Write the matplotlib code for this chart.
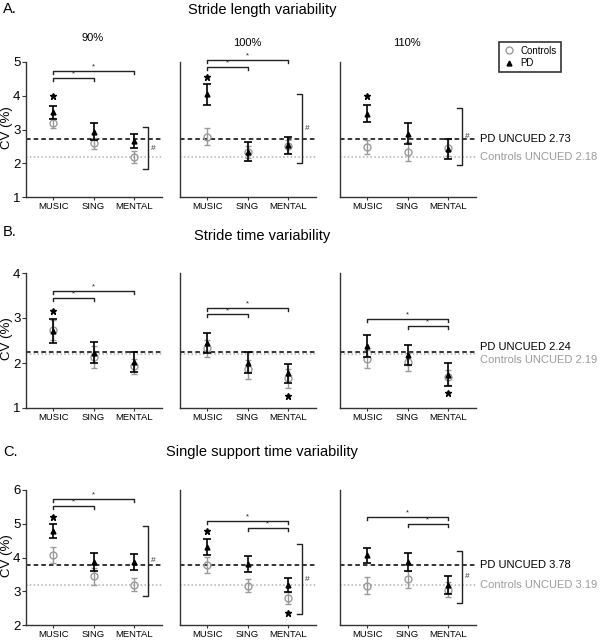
import numpy as np
import matplotlib
matplotlib.use("Agg")
import matplotlib.pyplot as plt
from matplotlib.lines import Line2D

plt.rcParams['font.family'] = ['Liberation Sans', 'DejaVu Sans']

# ---------------- data ----------------
categories = ["MUSIC", "SING", "MENTAL"]
speeds = ["90%", "100%", "110%"]
measures = ["Stride length variability", "Stride time variability",
            "Single support time variability"]
row_letters = ["A.", "B.", "C."]

# Stride length variability (CV %) per speed panel: [MUSIC, SING, MENTAL]
sl_pd_mean = [[3.51, 2.94, 2.66], [4.05, 2.34, 2.53], [3.47, 2.87, 2.43]]
sl_pd_err = [[0.20, 0.24, 0.22], [0.31, 0.28, 0.26], [0.26, 0.31, 0.30]]
sl_ctrl_mean = [[3.19, 2.59, 2.18], [2.79, 2.33, 2.50], [2.49, 2.34, 2.46]]
sl_ctrl_err = [[0.16, 0.16, 0.18], [0.24, 0.18, 0.20], [0.21, 0.28, 0.25]]

# Stride time variability
st_pd_mean = [[2.71, 2.23, 2.02], [2.45, 2.01, 1.77], [2.38, 2.18, 1.74]]
st_pd_err = [[0.26, 0.24, 0.22], [0.22, 0.24, 0.21], [0.24, 0.22, 0.25]]
st_ctrl_mean = [[2.73, 2.13, 1.93], [2.33, 1.86, 1.66], [2.09, 2.02, 1.68]]
st_ctrl_err = [[0.22, 0.24, 0.17], [0.19, 0.21, 0.21], [0.21, 0.20, 0.17]]

# Single support time variability
ss_pd_mean = [[4.78, 3.86, 3.87], [4.31, 3.80, 3.18], [4.07, 3.86, 3.18]]
ss_pd_err = [[0.20, 0.26, 0.24], [0.24, 0.23, 0.20], [0.22, 0.26, 0.26]]
ss_ctrl_mean = [[4.08, 3.45, 3.20], [3.78, 3.17, 2.80], [3.17, 3.36, 3.04]]
ss_ctrl_err = [[0.24, 0.25, 0.18], [0.24, 0.18, 0.19], [0.26, 0.25, 0.22]]

pd_uncued = [2.73, 2.24, 3.78]
ctrl_uncued = [2.18, 2.19, 3.19]

# stars vs uncued: (panel, category index, y)
sl_stars = [(0, 0, 3.98), (1, 0, 4.57), (2, 0, 3.98)]
st_stars = [(0, 0, 3.15), (1, 2, 1.27), (2, 2, 1.33)]
ss_stars = [(0, 0, 5.21), (1, 0, 4.79), (1, 2, 2.37)]

# condition comparison brackets: (panel, cat_from, cat_to, y)
sl_brackets = [(0, 0, 2, 4.73), (0, 0, 1, 4.52), (1, 0, 2, 5.05), (1, 0, 1, 4.85)]
st_brackets = [(0, 0, 2, 3.60), (0, 0, 1, 3.45), (1, 0, 2, 3.23), (1, 0, 1, 3.08),
               (2, 0, 2, 2.97), (2, 1, 2, 2.82)]
ss_brackets = [(0, 0, 2, 5.73), (0, 0, 1, 5.54), (1, 0, 2, 5.08), (1, 1, 2, 4.88),
               (2, 0, 2, 5.19), (2, 1, 2, 4.99)]

# group-difference (#) brackets: (panel, top, bottom)
sl_hash = [(0, 3.07, 1.83), (1, 4.06, 2.00), (2, 3.63, 1.95)]
st_hash = []
ss_hash = [(0, 4.94, 2.87), (1, 4.39, 2.32), (2, 4.19, 2.66)]

rows = [
    (sl_pd_mean, sl_pd_err, sl_ctrl_mean, sl_ctrl_err, sl_stars, sl_brackets, sl_hash),
    (st_pd_mean, st_pd_err, st_ctrl_mean, st_ctrl_err, st_stars, st_brackets, st_hash),
    (ss_pd_mean, ss_pd_err, ss_ctrl_mean, ss_ctrl_err, ss_stars, ss_brackets, ss_hash),
]
row_ylims = [(1, 5), (1, 4), (2, 6)]
row_yticks = [[1, 2, 3, 4, 5], [1, 2, 3, 4], [2, 3, 4, 5, 6]]
label_shift = [(0.0, 0.0), (0.12, -0.12), (0.0, 0.0)]

# ---------------- layout ----------------
W, H = 600, 641
fig = plt.figure(figsize=(W / 100, H / 100), dpi=100)
gray = '#9a9a9a'
dark = '#222222'

row_bottom_px = [197, 408, 625]
ax_h_px = 135
col_left_px = [26, 180, 340]
ax_w_px = 136
title_y_px = [10, 236, 452]
letter_y_px = [9, 232, 452]

x = np.arange(len(categories))

for r in range(3):
    pm, pe, cm, ce, stars, brackets, hashes = rows[r]
    ylo, yhi = row_ylims[r]
    upp = (yhi - ylo) / ax_h_px  # data units per pixel
    fig.text(3 / W, 1 - letter_y_px[r] / H, row_letters[r], fontsize=10.5,
             ha='left', va='center')
    fig.text(262 / W, 1 - title_y_px[r] / H, measures[r], fontsize=10.5,
             ha='center', va='center')
    fig.text(7 / W, 1 - (row_bottom_px[r] - ax_h_px / 2 - 2) / H, 'CV (%)',
             fontsize=9.5, rotation=90, ha='center', va='center')
    for c in range(3):
        ax = fig.add_axes([col_left_px[c] / W, 1 - row_bottom_px[r] / H,
                           ax_w_px / W, ax_h_px / H])
        ax.set_xlim(-0.67, 2.69)
        ax.set_ylim(ylo, yhi)
        for s in ['top', 'right']:
            ax.spines[s].set_visible(False)
        for s in ['left', 'bottom']:
            ax.spines[s].set_linewidth(1.0)
            ax.spines[s].set_color('#333333')
        ax.set_xticks(x)
        ax.set_xticklabels(categories, fontsize=6.8)
        ax.tick_params(axis='x', length=2.5, width=0.8, pad=1.0, color='#333333')
        if c == 0:
            ax.set_yticks(row_yticks[r])
            ax.set_yticklabels([str(t) for t in row_yticks[r]], fontsize=9.5)
            ax.tick_params(axis='y', length=3, width=0.8, pad=1, color='#333333')
        else:
            ax.set_yticks([])

        ax.axhline(pd_uncued[r], ls=(0, (3, 2)), color='black', lw=1.1, zorder=1)
        ax.axhline(ctrl_uncued[r], ls=(0, (1, 1.5)), color='#b0b0b0', lw=1.1, zorder=1)

        ax.errorbar(x, cm[c], yerr=ce[c], fmt='o', mfc='none', mec=gray,
                    ecolor=gray, color=gray, ms=5, mew=1.0, capsize=2.5,
                    elinewidth=1.0, capthick=1.0, zorder=3)
        ax.errorbar(x, pm[c], yerr=pe[c], fmt='^', color='black', ms=3.5,
                    capsize=2.8, elinewidth=1.2, capthick=1.2, zorder=4)

        for (p, k, yv) in stars:
            if p == c:
                ax.plot([x[k]], [yv], marker='*', ls='none', color='black',
                        ms=4.5, clip_on=False, zorder=5)
        tick = 3 * upp
        for (p, k0, k1, yv) in brackets:
            if p == c:
                ax.plot([x[k0], x[k0], x[k1], x[k1]], [yv - tick, yv, yv, yv - tick],
                        color=dark, lw=1.0, clip_on=False)
                ax.text((x[k0] + x[k1]) / 2, yv + 0.5 * upp, '*', fontsize=5.5,
                        ha='center', va='bottom', color=dark)
        for (p, top, bot) in hashes:
            if p == c:
                xb = 2.34
                ax.plot([xb - 0.12, xb, xb, xb - 0.12], [top, top, bot, bot],
                        color=dark, lw=1.0, clip_on=False)
                ax.text(xb + 0.07, (top + bot) / 2, '#', fontsize=6,
                        ha='left', va='center', color='#333333')

        if r == 0:
            yoff = 38 if c == 0 else 43
            fig.text((col_left_px[c] + 67) / W, 1 - yoff / H, speeds[c],
                     fontsize=8, ha='center', va='center')

        if c == 2:
            ax.text(2.79, pd_uncued[r] + label_shift[r][0], 'PD UNCUED %.2f' % pd_uncued[r],
                    fontsize=8, color='black', ha='left', va='center', clip_on=False)
            ax.text(2.79, ctrl_uncued[r] + label_shift[r][1],
                    'Controls UNCUED %.2f' % ctrl_uncued[r],
                    fontsize=8, color=gray, ha='left', va='center', clip_on=False)

handles = [Line2D([], [], marker='o', mfc='none', mec=gray, mew=1.0, ls='none', ms=5),
           Line2D([], [], marker='^', color='black', ls='none', ms=3.5)]
leg = fig.legend(handles, ['Controls', 'PD'], loc='upper left',
                 bbox_to_anchor=(499 / W, 1 - 42 / H), frameon=True, fancybox=False,
                 edgecolor='black', fontsize=7, handlelength=1.2, borderpad=0.4,
                 labelspacing=0.25, handletextpad=0.6, borderaxespad=0)
leg.get_frame().set_linewidth(1.2)

fig.savefig('out.png', dpi=100)
